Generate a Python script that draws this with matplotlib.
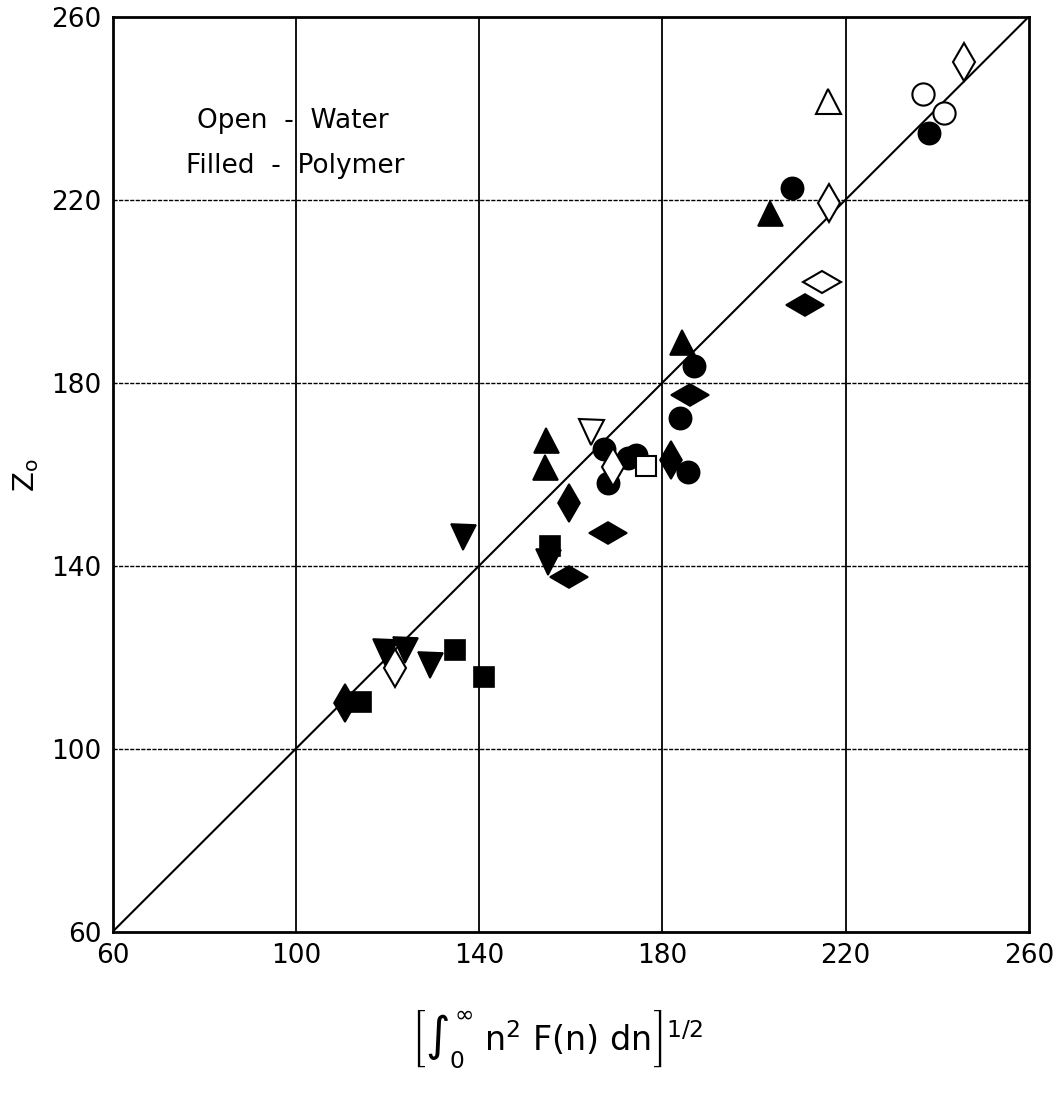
import matplotlib
matplotlib.use("Agg")
import matplotlib.pyplot as plt
from matplotlib.markers import MarkerStyle
from matplotlib.transforms import Affine2D

plt.rcParams['font.family'] = ['DejaVu Sans']
plt.rcParams['mathtext.fontset'] = 'dejavusans'

# ---- data (x = [∫ n^2 F(n) dn]^(1/2), y = Z_o) ----
filled_circle_x = [167.3, 172.6, 174.3, 168.1, 183.9, 187.0, 185.7, 208.2, 238.3]
filled_circle_y = [165.4, 163.5, 164.2, 158.0, 172.3, 183.7, 160.5, 222.6, 234.5]
open_circle_x = [237.0, 241.4]
open_circle_y = [243.0, 239.0]

filled_up_x = [154.6, 154.4, 184.2, 203.4]
filled_up_y = [167.5, 161.6, 189.0, 217.0]
open_up_x = [216.2]
open_up_y = [241.6]

filled_down_x = [136.4, 119.5, 123.8, 129.3, 155.1]
filled_down_y = [146.3, 121.2, 121.6, 118.3, 140.8]
open_down_x = [164.4]
open_down_y = [169.3]

filled_square_x = [155.4, 134.7, 141.1, 114.2]
filled_square_y = [144.2, 121.6, 115.7, 110.3]
open_square_x = [176.4]
open_square_y = [161.9]

filled_vdiam_x = [159.6, 182.0, 110.7]
filled_vdiam_y = [153.6, 163.0, 109.9]
open_vdiam_x = [169.3, 121.6, 216.4, 245.9]
open_vdiam_y = [161.6, 117.6, 219.3, 250.0]

filled_hdiam_x = [168.1, 159.6, 186.0, 211.2]
filled_hdiam_y = [147.1, 137.6, 177.3, 197.0]
open_hdiam_x = [214.8]
open_hdiam_y = [202.0]

ticks = [60, 100, 140, 180, 220, 260]
grid_vals = [100, 140, 180, 220]
line_x = [60, 260]
line_y = [60, 260]

fig = plt.figure(figsize=(10.57, 10.93), dpi=100)
ax = fig.add_axes([0.1066, 0.1476, 0.8667, 0.8371])
ax.set_xlim(60, 260)
ax.set_ylim(60, 260)

for g in grid_vals:
    ax.axvline(g, color='black', lw=1.3, zorder=1)
    ax.axhline(g, color='black', lw=1.0, ls=(0, (3, 1)), zorder=1)

ax.plot(line_x, line_y, color='black', lw=1.5, zorder=2)

hd = MarkerStyle('d', transform=Affine2D().rotate_deg(90))

def draw(x, y, marker, ms, filled):
    if filled:
        ax.plot(x, y, ls='none', marker=marker, ms=ms, mfc='black', mec='black', mew=1.2, zorder=3)
    else:
        ax.plot(x, y, ls='none', marker=marker, ms=ms, mfc='white', mec='black', mew=1.5, zorder=4)

draw(filled_circle_x, filled_circle_y, 'o', 16, True)
draw(open_circle_x, open_circle_y, 'o', 16, False)
draw(filled_up_x, filled_up_y, '^', 18, True)
draw(open_up_x, open_up_y, '^', 18, False)
draw(filled_down_x, filled_down_y, 'v', 18, True)
draw(open_down_x, open_down_y, 'v', 18, False)
draw(filled_square_x, filled_square_y, 's', 15, True)
draw(open_square_x, open_square_y, 's', 15, False)
draw(filled_vdiam_x, filled_vdiam_y, 'd', 19, True)
draw(open_vdiam_x, open_vdiam_y, 'd', 19, False)
draw(filled_hdiam_x, filled_hdiam_y, hd, 19, True)
draw(open_hdiam_x, open_hdiam_y, hd, 19, False)

ax.set_xticks(ticks)
ax.set_yticks(ticks)
ax.set_xticklabels([str(t) for t in ticks])
ax.set_yticklabels([str(t) for t in ticks])
ax.tick_params(length=0, labelsize=19, pad=8)
for s in ax.spines.values():
    s.set_linewidth(2.0)

ax.text(0.092, 0.878, "Open  -  Water", transform=ax.transAxes, fontsize=19, va='baseline')
ax.text(0.080, 0.829, "Filled  -  Polymer", transform=ax.transAxes, fontsize=19, va='baseline')

fig.text(0.025, 0.565, r"Z$_\mathrm{o}$", rotation=90, fontsize=21, ha='center', va='center')
fig.text(0.527, 0.05, r"$\left[\int_0^{\infty}\ \mathrm{n}^2\ \mathrm{F(n)\ dn}\right]^{1/2}$",
         fontsize=24, ha='center', va='center')

fig.savefig("out.png", dpi=100)
